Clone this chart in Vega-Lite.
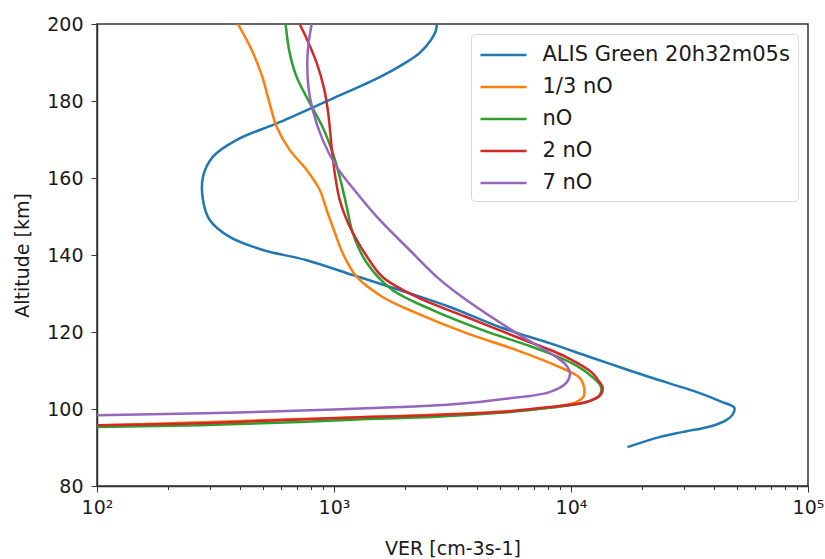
{
  "$schema": "https://vega.github.io/schema/vega-lite/v6.json",
  "autosize": "none",
  "width": 711,
  "height": 462,
  "padding": {"left": 97, "top": 24, "right": 17, "bottom": 73},
  "background": "white",
  "config": {
    "font": "DejaVu Sans",
    "view": {"stroke": "#333333", "strokeWidth": 1.5},
    "axis": {"grid": false, "domainColor": "#333333", "domainWidth": 1.5, "tickColor": "#333333", "labelColor": "#1a1a1a", "titleColor": "#1a1a1a", "labelFont": "DejaVu Sans", "titleFont": "DejaVu Sans", "labelFontSize": 19, "titleFontSize": 19, "titleFontWeight": "normal"}
  },
  "data": {"values": [
    {"s": "ALIS Green 20h32m05s", "alt": 90.1, "ver": 17300},
    {"s": "ALIS Green 20h32m05s", "alt": 92.7, "ver": 23600},
    {"s": "ALIS Green 20h32m05s", "alt": 94.0, "ver": 29500},
    {"s": "ALIS Green 20h32m05s", "alt": 95.6, "ver": 39400},
    {"s": "ALIS Green 20h32m05s", "alt": 97.1, "ver": 45200},
    {"s": "ALIS Green 20h32m05s", "alt": 98.4, "ver": 47900},
    {"s": "ALIS Green 20h32m05s", "alt": 100.3, "ver": 48900},
    {"s": "ALIS Green 20h32m05s", "alt": 101.8, "ver": 43500},
    {"s": "ALIS Green 20h32m05s", "alt": 104.2, "ver": 34700},
    {"s": "ALIS Green 20h32m05s", "alt": 108.3, "ver": 21400},
    {"s": "ALIS Green 20h32m05s", "alt": 110.9, "ver": 16000},
    {"s": "ALIS Green 20h32m05s", "alt": 113.5, "ver": 12000},
    {"s": "ALIS Green 20h32m05s", "alt": 117.1, "ver": 8110},
    {"s": "ALIS Green 20h32m05s", "alt": 121.3, "ver": 4990},
    {"s": "ALIS Green 20h32m05s", "alt": 126.5, "ver": 3080},
    {"s": "ALIS Green 20h32m05s", "alt": 130.9, "ver": 1890},
    {"s": "ALIS Green 20h32m05s", "alt": 134.8, "ver": 1200},
    {"s": "ALIS Green 20h32m05s", "alt": 138.7, "ver": 760},
    {"s": "ALIS Green 20h32m05s", "alt": 141.3, "ver": 501},
    {"s": "ALIS Green 20h32m05s", "alt": 144.7, "ver": 363},
    {"s": "ALIS Green 20h32m05s", "alt": 149.1, "ver": 299},
    {"s": "ALIS Green 20h32m05s", "alt": 154.3, "ver": 280},
    {"s": "ALIS Green 20h32m05s", "alt": 160.3, "ver": 280},
    {"s": "ALIS Green 20h32m05s", "alt": 165.5, "ver": 308},
    {"s": "ALIS Green 20h32m05s", "alt": 169.9, "ver": 389},
    {"s": "ALIS Green 20h32m05s", "alt": 174.5, "ver": 590},
    {"s": "ALIS Green 20h32m05s", "alt": 180.3, "ver": 959},
    {"s": "ALIS Green 20h32m05s", "alt": 186.2, "ver": 1560},
    {"s": "ALIS Green 20h32m05s", "alt": 189.9, "ver": 2000},
    {"s": "ALIS Green 20h32m05s", "alt": 192.5, "ver": 2300},
    {"s": "ALIS Green 20h32m05s", "alt": 195.8, "ver": 2560},
    {"s": "ALIS Green 20h32m05s", "alt": 198.0, "ver": 2680},
    {"s": "ALIS Green 20h32m05s", "alt": 200.0, "ver": 2720},

    {"s": "1/3 nO", "alt": 95.7, "ver": 100},
    {"s": "1/3 nO", "alt": 96.6, "ver": 300},
    {"s": "1/3 nO", "alt": 97.4, "ver": 716},
    {"s": "1/3 nO", "alt": 97.9, "ver": 1374},
    {"s": "1/3 nO", "alt": 98.5, "ver": 2606},
    {"s": "1/3 nO", "alt": 99.3, "ver": 4990},
    {"s": "1/3 nO", "alt": 100.4, "ver": 8110},
    {"s": "1/3 nO", "alt": 101.8, "ver": 10500},
    {"s": "1/3 nO", "alt": 103.3, "ver": 11300},
    {"s": "1/3 nO", "alt": 104.9, "ver": 11400},
    {"s": "1/3 nO", "alt": 106.8, "ver": 11200},
    {"s": "1/3 nO", "alt": 108.3, "ver": 10800},
    {"s": "1/3 nO", "alt": 110.9, "ver": 8940},
    {"s": "1/3 nO", "alt": 115.3, "ver": 5890},
    {"s": "1/3 nO", "alt": 119.7, "ver": 3620},
    {"s": "1/3 nO", "alt": 124.9, "ver": 2232},
    {"s": "1/3 nO", "alt": 129.1, "ver": 1603},
    {"s": "1/3 nO", "alt": 134.3, "ver": 1248},
    {"s": "1/3 nO", "alt": 140.5, "ver": 1088},
    {"s": "1/3 nO", "alt": 145.7, "ver": 1010},
    {"s": "1/3 nO", "alt": 151.7, "ver": 931},
    {"s": "1/3 nO", "alt": 156.9, "ver": 871},
    {"s": "1/3 nO", "alt": 162.1, "ver": 767},
    {"s": "1/3 nO", "alt": 167.3, "ver": 650},
    {"s": "1/3 nO", "alt": 173.2, "ver": 574},
    {"s": "1/3 nO", "alt": 180.3, "ver": 530},
    {"s": "1/3 nO", "alt": 186.5, "ver": 497},
    {"s": "1/3 nO", "alt": 193.2, "ver": 450},
    {"s": "1/3 nO", "alt": 200.0, "ver": 393},

    {"s": "nO", "alt": 95.3, "ver": 100},
    {"s": "nO", "alt": 95.8, "ver": 272},
    {"s": "nO", "alt": 96.6, "ver": 716},
    {"s": "nO", "alt": 97.4, "ver": 1374},
    {"s": "nO", "alt": 97.9, "ver": 2606},
    {"s": "nO", "alt": 99.0, "ver": 4990},
    {"s": "nO", "alt": 100.3, "ver": 8110},
    {"s": "nO", "alt": 101.8, "ver": 11600},
    {"s": "nO", "alt": 103.6, "ver": 13200},
    {"s": "nO", "alt": 105.7, "ver": 13400},
    {"s": "nO", "alt": 108.3, "ver": 12300},
    {"s": "nO", "alt": 111.9, "ver": 10100},
    {"s": "nO", "alt": 116.1, "ver": 6870},
    {"s": "nO", "alt": 120.5, "ver": 4240},
    {"s": "nO", "alt": 125.7, "ver": 2606},
    {"s": "nO", "alt": 130.9, "ver": 1766},
    {"s": "nO", "alt": 138.0, "ver": 1374},
    {"s": "nO", "alt": 145.7, "ver": 1200},
    {"s": "nO", "alt": 152.5, "ver": 1132},
    {"s": "nO", "alt": 160.3, "ver": 1057},
    {"s": "nO", "alt": 166.5, "ver": 988},
    {"s": "nO", "alt": 173.2, "ver": 896},
    {"s": "nO", "alt": 179.5, "ver": 790},
    {"s": "nO", "alt": 186.2, "ver": 696},
    {"s": "nO", "alt": 192.5, "ver": 650},
    {"s": "nO", "alt": 200.0, "ver": 625},

    {"s": "2 nO", "alt": 95.8, "ver": 100},
    {"s": "2 nO", "alt": 96.3, "ver": 272},
    {"s": "2 nO", "alt": 97.3, "ver": 716},
    {"s": "2 nO", "alt": 97.9, "ver": 1374},
    {"s": "2 nO", "alt": 98.4, "ver": 2606},
    {"s": "2 nO", "alt": 99.2, "ver": 4990},
    {"s": "2 nO", "alt": 100.5, "ver": 8110},
    {"s": "2 nO", "alt": 101.8, "ver": 11600},
    {"s": "2 nO", "alt": 103.6, "ver": 13300},
    {"s": "2 nO", "alt": 105.5, "ver": 13600},
    {"s": "2 nO", "alt": 107.5, "ver": 13000},
    {"s": "2 nO", "alt": 109.4, "ver": 12300},
    {"s": "2 nO", "alt": 113.5, "ver": 9550},
    {"s": "2 nO", "alt": 118.7, "ver": 5890},
    {"s": "2 nO", "alt": 123.9, "ver": 3620},
    {"s": "2 nO", "alt": 129.1, "ver": 2232},
    {"s": "2 nO", "alt": 134.3, "ver": 1603},
    {"s": "2 nO", "alt": 139.5, "ver": 1380},
    {"s": "2 nO", "alt": 143.9, "ver": 1248},
    {"s": "2 nO", "alt": 149.1, "ver": 1132},
    {"s": "2 nO", "alt": 154.3, "ver": 1057},
    {"s": "2 nO", "alt": 161.3, "ver": 1007},
    {"s": "2 nO", "alt": 168.1, "ver": 977},
    {"s": "2 nO", "alt": 176.9, "ver": 945},
    {"s": "2 nO", "alt": 183.6, "ver": 905},
    {"s": "2 nO", "alt": 189.9, "ver": 845},
    {"s": "2 nO", "alt": 195.8, "ver": 772},
    {"s": "2 nO", "alt": 200.0, "ver": 716},

    {"s": "7 nO", "alt": 98.4, "ver": 100},
    {"s": "7 nO", "alt": 98.8, "ver": 250},
    {"s": "7 nO", "alt": 99.3, "ver": 500},
    {"s": "7 nO", "alt": 99.9, "ver": 1000},
    {"s": "7 nO", "alt": 100.5, "ver": 1900},
    {"s": "7 nO", "alt": 101.3, "ver": 3300},
    {"s": "7 nO", "alt": 102.6, "ver": 5200},
    {"s": "7 nO", "alt": 104.4, "ver": 8110},
    {"s": "7 nO", "alt": 106.8, "ver": 9550},
    {"s": "7 nO", "alt": 109.4, "ver": 9900},
    {"s": "7 nO", "alt": 111.5, "ver": 9500},
    {"s": "7 nO", "alt": 113.5, "ver": 8670},
    {"s": "7 nO", "alt": 119.7, "ver": 5890},
    {"s": "7 nO", "alt": 128.3, "ver": 3620},
    {"s": "7 nO", "alt": 134.0, "ver": 2750},
    {"s": "7 nO", "alt": 141.3, "ver": 2084},
    {"s": "7 nO", "alt": 149.1, "ver": 1560},
    {"s": "7 nO", "alt": 156.1, "ver": 1248},
    {"s": "7 nO", "alt": 162.9, "ver": 1026},
    {"s": "7 nO", "alt": 169.9, "ver": 896},
    {"s": "7 nO", "alt": 177.7, "ver": 813},
    {"s": "7 nO", "alt": 183.6, "ver": 780},
    {"s": "7 nO", "alt": 192.5, "ver": 774},
    {"s": "7 nO", "alt": 200.0, "ver": 805}
  ]},
  "mark": {"type": "line", "strokeWidth": 2.5, "interpolate": "catmull-rom", "clip": true},
  "encoding": {
    "x": {
      "field": "ver", "type": "quantitative",
      "scale": {"type": "log", "domain": [100, 100000], "nice": false},
      "axis": {
        "title": "VER [cm-3s-1]",
        "values": [100,200,300,400,500,600,700,800,900,1000,2000,3000,4000,5000,6000,7000,8000,9000,10000,20000,30000,40000,50000,60000,70000,80000,90000,100000],
        "labelExpr": "(datum.value == 100 || datum.value == 1000 || datum.value == 10000 || datum.value == 100000) ? '10' + ['⁰','¹','²','³','⁴','⁵'][round(log(datum.value)/LN10)] : ''",
        "labelFlush": false,
        "labelOverlap": false,
        "tickSize": {"condition": {"test": "datum.value == 100 || datum.value == 1000 || datum.value == 10000 || datum.value == 100000", "value": 6}, "value": 3.5},
        "labelPadding": 6,
        "titlePadding": 22
      }
    },
    "y": {
      "field": "alt", "type": "quantitative",
      "scale": {"domain": [80, 200], "nice": false},
      "axis": {"title": "Altitude [km]", "values": [80,100,120,140,160,180,200], "tickSize": 6, "labelPadding": 8, "titlePadding": 14}
    },
    "color": {
      "field": "s", "type": "nominal",
      "scale": {"domain": ["ALIS Green 20h32m05s", "1/3 nO", "nO", "2 nO", "7 nO"], "range": ["#1f77b4", "#ff7f0e", "#2ca02c", "#d62728", "#9467bd"]},
      "legend": {
        "title": null, "orient": "top-right", "offset": 10,
        "fillColor": "white", "strokeColor": "#d9d9d9", "cornerRadius": 4, "padding": 8,
        "symbolType": "M-2,0H2", "symbolSize": 529, "symbolStrokeWidth": 2.5, "symbolOffset": 11.5,
        "labelFontSize": 21, "labelFont": "DejaVu Sans", "labelColor": "#1a1a1a", "labelOffset": 26, "labelLimit": 400,
        "rowPadding": 9
      }
    },
    "order": {"field": "alt", "type": "quantitative"}
  }
}
